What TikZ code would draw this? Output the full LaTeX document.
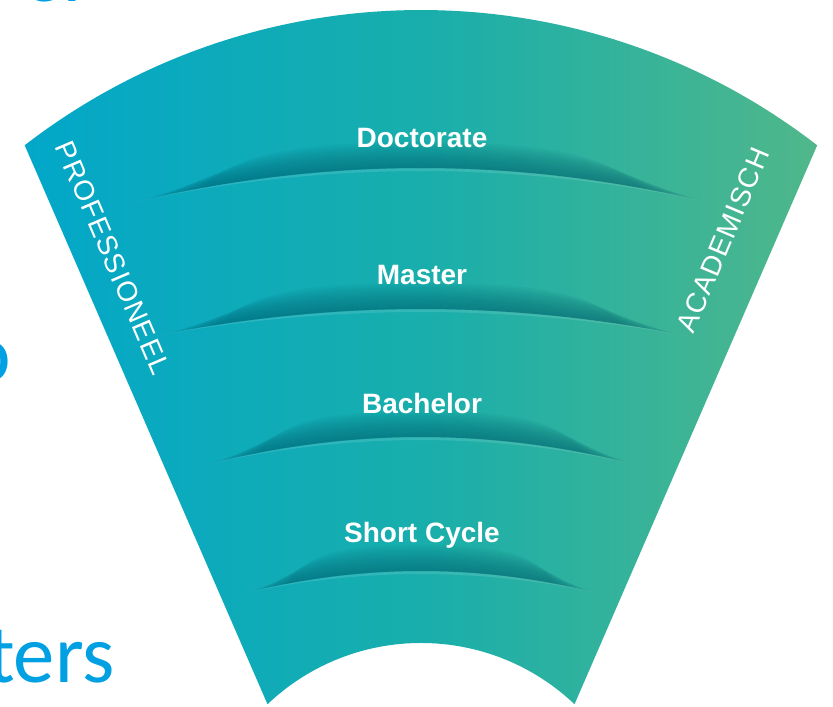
\documentclass[tikz,border=0pt]{standalone}
\usepackage{fontspec}
\setmainfont{Liberation Sans}
\newfontfamily\slidefont{Carlito}
\newfontfamily\sidefont[LetterSpace=4]{Liberation Sans}

\definecolor{fanblue}{RGB}{2,167,201}
\definecolor{fanteal}{RGB}{24,174,172}
\definecolor{fangreen}{RGB}{80,183,138}
\definecolor{shadowteal}{RGB}{0,92,108}
\definecolor{slideblue}{RGB}{0,160,227}

\tikzset{
  level/.style={anchor=base, inner sep=0.75pt, text=white, font=\bfseries\fontsize{21}{25}\selectfont},
  side/.style={inner sep=0.75pt, text=white, font=\sidefont\fontsize{21}{25}\selectfont},
  slide/.style={inner sep=0pt, text=slideblue, font=\slidefont\fontsize{62}{70}\selectfont},
  band/.style={fill=shadowteal, fill opacity=0.06},
  gleam/.style={fill=white, fill opacity=0.12},
}

% shadow over one level edge: half width, end y, bend y
\newcommand{\levelshadow}[3]{%
  \foreach \k in {1,...,12}{
    \pgfmathsetmacro{\rr}{1-0.02*\k}
    \pgfmathsetmacro{\hh}{2.2*\k}
    \fill[band] plot[domain=-\rr:\rr, samples=50] ({421+#1*\x},{#3+(#2-#3)*\x*\x})
      -- plot[domain=\rr:-\rr, samples=50] ({421+#1*\x},{#3+(#2-#3)*\x*\x-\hh*(1-(\x/\rr)^6)}) -- cycle;
  }
  \fill[gleam] ({421-#1},#2) parabola bend (421,#3) ({421+#1},#2) parabola bend (421,#3+3) ({421-#1},#2) -- cycle;
}

\begin{document}
\begin{tikzpicture}[x=0.75pt,y=0.75pt,yscale=-1,xscale=1]
\useasboundingbox (0,0) rectangle (833,707);
\clip (0,0) rectangle (833,707);
\fill[white] (0,0) rectangle (833,707);

% Text Node
\node[slide, anchor=base west] (titletop) at (22,1) {er};
% Text Node
\node[slide, anchor=base east] (titlemid) at (11,381) {o};
% Text Node
\node[slide, anchor=base east] (titlelow) at (115,682) {ters};

%Shape: Fan
\begin{scope}
  \clip (24.7,145.3) arc[start angle=-127.7, end angle=-52.3, radius=648] -- (574.5,704.2) arc[start angle=-46.5, end angle=-133.5, radius=223] -- cycle;
  \shade[left color=fanblue, right color=fangreen, middle color=fanteal] (24,8) rectangle (818,706);
  \levelshadow{290}{203}{168}
  \levelshadow{266}{336}{309}
  \levelshadow{216}{465}{437}
  \levelshadow{176}{593}{571}
\end{scope}

% Text Node
\node[level] (doctorate) at (422,147) {Doctorate};
\node[level] (master) at (422,284) {Master};
\node[level] (bachelor) at (422,413) {Bachelor};
\node[level] (shortcycle) at (422,542) {Short Cycle};
% Text Node
\node[side, rotate=-66.8] (professioneel) at (113,258) {PROFESSIONEEL};
\node[side, rotate=67.2] (academisch) at (723,240) {ACADEMISCH};

\end{tikzpicture}
\end{document}
